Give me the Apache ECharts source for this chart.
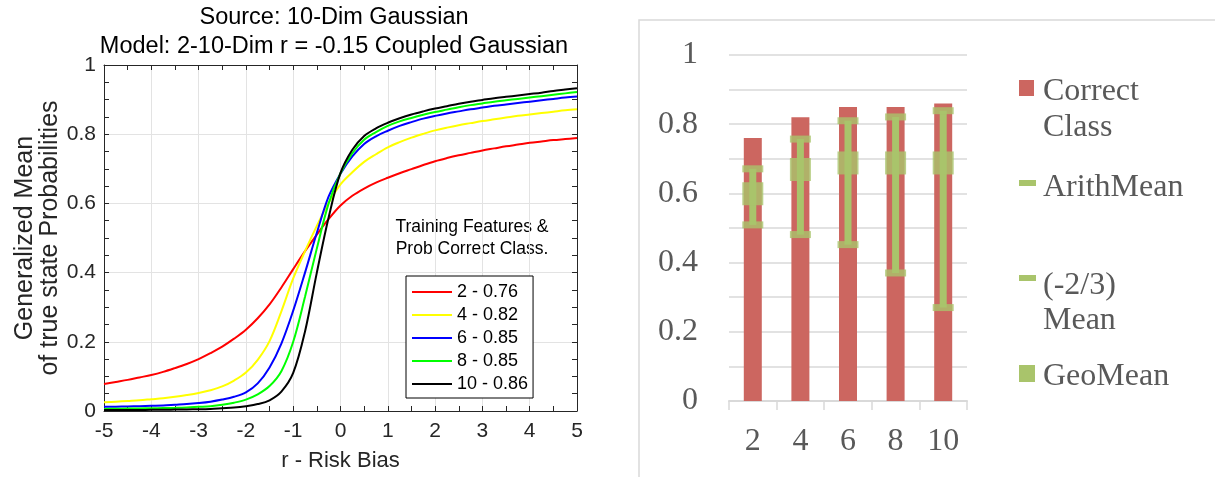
<!DOCTYPE html>
<html>
<head>
<meta charset="utf-8">
<script src="https://cdn.jsdelivr.net/npm/echarts@6/dist/echarts.min.js"></script>
<style>
html,body{margin:0;padding:0;background:#fff;}
#c{width:1215px;height:477px;}
</style>
</head>
<body>
<div id="c"></div>
<script>
// ---------- Left chart data ----------
const riskBias = [-5,-4.75,-4.5,-4.25,-4,-3.75,-3.5,-3.25,-3,-2.75,-2.5,-2.25,-2,-1.75,-1.5,-1.25,-1,-0.75,-0.5,-0.25,0,0.25,0.5,0.75,1,1.25,1.5,1.75,2,2.25,2.5,2.75,3,3.25,3.5,3.75,4,4.25,4.5,4.75,5];
const lineNames = ['2 - 0.76','4 - 0.82','6 - 0.85','8 - 0.85','10 - 0.86'];
const lineColors = ['#ff0000','#ffff00','#0000ff','#00ff00','#000000'];
const dim2  = [0.078,0.084,0.090,0.097,0.104,0.113,0.124,0.136,0.150,0.167,0.186,0.209,0.235,0.268,0.308,0.357,0.410,0.462,0.510,0.555,0.594,0.622,0.643,0.660,0.674,0.687,0.699,0.711,0.722,0.731,0.739,0.746,0.753,0.759,0.765,0.770,0.775,0.779,0.783,0.786,0.789];
const dim4  = [0.025,0.027,0.029,0.031,0.034,0.037,0.041,0.046,0.052,0.060,0.071,0.088,0.111,0.148,0.202,0.288,0.383,0.462,0.535,0.602,0.655,0.690,0.720,0.742,0.762,0.777,0.790,0.801,0.811,0.819,0.826,0.832,0.838,0.843,0.848,0.853,0.857,0.861,0.865,0.869,0.872];
const dim6  = [0.012,0.0125,0.013,0.014,0.015,0.016,0.018,0.020,0.023,0.027,0.033,0.041,0.054,0.080,0.126,0.195,0.290,0.400,0.515,0.620,0.686,0.736,0.772,0.794,0.810,0.824,0.835,0.845,0.853,0.860,0.866,0.872,0.877,0.882,0.886,0.890,0.894,0.898,0.902,0.906,0.909];
const dim8  = [0.006,0.0065,0.007,0.0075,0.008,0.0085,0.009,0.010,0.012,0.014,0.018,0.024,0.033,0.048,0.072,0.115,0.200,0.330,0.470,0.600,0.687,0.745,0.784,0.806,0.824,0.837,0.847,0.856,0.864,0.871,0.878,0.884,0.889,0.894,0.898,0.902,0.906,0.910,0.914,0.918,0.922];
const dim10 = [0.003,0.003,0.003,0.003,0.0035,0.0035,0.004,0.0045,0.005,0.006,0.008,0.010,0.014,0.020,0.031,0.056,0.110,0.230,0.400,0.560,0.688,0.755,0.795,0.817,0.833,0.846,0.857,0.866,0.874,0.881,0.888,0.894,0.899,0.904,0.908,0.912,0.916,0.920,0.925,0.929,0.933];
const lineValues = [dim2, dim4, dim6, dim8, dim10];

// ---------- Right chart data ----------
const dims = ['2','4','6','8','10'];
const correctClass = [0.76,0.82,0.85,0.85,0.86];
const arithMean = [0.671,0.757,0.810,0.821,0.839];
const negTwoThirdsMean = [0.509,0.481,0.452,0.370,0.270];
const geoMean = [0.599,0.669,0.688,0.688,0.688];

const RED = '#cc6660';
const GREEN = '#a9c46b';
const GREY_TXT = '#595959';
const SERIF = 'Liberation Serif';
const SANS = 'Liberation Sans';
const AX = '#262626';

const chart = echarts.init(document.getElementById('c'), null, {renderer:'canvas'});

const lineSeries = lineNames.map((n, k) => ({
  name: n, type: 'line', xAxisIndex: 0, yAxisIndex: 0,
  data: riskBias.map((x, i) => [x, lineValues[k][i]]),
  showSymbol: false, smooth: 0.35,
  lineStyle: {color: lineColors[k], width: 2}, itemStyle: {color: lineColors[k]},
  z: 3 + k
}));

const leftAxisCommon = {
  gridIndex: 0, type: 'value',
  axisLine: {show: true, onZero: false, lineStyle: {color: AX, width: 1}},
  axisTick: {show: true, inside: true, length: 5, lineStyle: {color: AX}},
};

const option = {
  animation: false,
  textStyle: {fontFamily: SANS},
  title: {
    text: 'Source: 10-Dim Gaussian\nModel: 2-10-Dim r = -0.15 Coupled Gaussian',
    left: 334, top: 3, padding: 0, textAlign: 'center',
    textStyle: {fontSize: 23.5, lineHeight: 29, fontWeight: 'normal', color: '#000', fontFamily: SANS}
  },
  grid: [
    {left: 104, top: 65, width: 473, height: 351, containLabel: false},
    {left: 729, top: 55, width: 238, height: 346, containLabel: false}
  ],
  legend: [{
    data: lineNames, orient: 'vertical', left: 406, top: 276,
    padding: [7, 5, 5, 6], itemGap: 5, itemWidth: 40, itemHeight: 2, icon: 'rect',
    borderColor: '#000', borderWidth: 1, backgroundColor: '#fff',
    textStyle: {fontSize: 18, lineHeight: 18, color: '#000', fontFamily: SANS, padding: [0,0,0,0]},
    selectedMode: false
  }],
  xAxis: [
    Object.assign({}, leftAxisCommon, {
      position: 'bottom', min: -5, max: 5, interval: 1,
      minorTick: {show: true, splitNumber: 2, length: 5, lineStyle: {color: AX}},
      splitLine: {show: true, lineStyle: {color: '#e3e3e3', width: 1}},
      axisLabel: {fontSize: 21, color: AX, margin: 10, fontFamily: SANS},
      name: 'r - Risk Bias', nameLocation: 'middle', nameGap: 39,
      nameTextStyle: {fontSize: 22, color: AX, fontFamily: SANS}
    }),
    Object.assign({}, leftAxisCommon, {
      position: 'top', min: -5, max: 5, interval: 1,
      minorTick: {show: true, splitNumber: 2, length: 5, lineStyle: {color: AX}},
      splitLine: {show: false}, axisLabel: {show: false}
    }),
    {
      gridIndex: 1, type: 'category', data: dims, position: 'bottom',
      axisLine: {show: true, lineStyle: {color: '#d9d9d9', width: 2}},
      axisTick: {show: true, length: 9, lineStyle: {color: '#d9d9d9', width: 1.5}},
      axisLabel: {fontSize: 32, color: GREY_TXT, fontFamily: SERIF, margin: 25},
      splitLine: {show: false}
    }
  ],
  yAxis: [
    Object.assign({}, leftAxisCommon, {
      position: 'left', min: 0, max: 1, interval: 0.2,
      minorTick: {show: true, splitNumber: 4, length: 5, lineStyle: {color: AX}},
      splitLine: {show: true, lineStyle: {color: '#e3e3e3', width: 1}},
      axisLabel: {fontSize: 21, color: AX, margin: 8, fontFamily: SANS},
      name: 'Generalized Mean\nof true state Probabilities', nameLocation: 'middle', nameGap: 33,
      nameTextStyle: {fontSize: 25, lineHeight: 25, color: AX, fontFamily: SANS}
    }),
    Object.assign({}, leftAxisCommon, {
      position: 'right', min: 0, max: 1, interval: 0.2,
      minorTick: {show: true, splitNumber: 4, length: 5, lineStyle: {color: AX}},
      splitLine: {show: false}, axisLabel: {show: false}
    }),
    {
      gridIndex: 1, type: 'value', min: 0, max: 1, interval: 0.1,
      axisLine: {show: false}, axisTick: {show: false},
      splitLine: {show: true, lineStyle: {color: '#d9d9d9', width: 1.5}},
      axisLabel: {
        fontSize: 32, color: GREY_TXT, fontFamily: SERIF, margin: 31, padding: [8, 0, 0, 0],
        formatter: v => (Math.round(v * 10) % 2 === 0) ? String(+v.toFixed(1)) : ''
      }
    }
  ],
  series: lineSeries.concat([
    {
      name: 'Correct Class', type: 'bar', xAxisIndex: 2, yAxisIndex: 2,
      data: correctClass, barWidth: 18, itemStyle: {color: RED}, z: 2
    },
    {
      name: 'HighLow', type: 'custom', xAxisIndex: 2, yAxisIndex: 2, z: 3,
      data: dims.map((d, i) => [i, arithMean[i], negTwoThirdsMean[i]]),
      encode: {x: 0, y: [1, 2]},
      renderItem: (params, api) => {
        const top = api.coord([api.value(0), api.value(1)]);
        const bot = api.coord([api.value(0), api.value(2)]);
        const w = 7;
        return {type: 'rect', shape: {x: top[0] - w / 2, y: top[1], width: w, height: bot[1] - top[1]},
                style: {fill: GREEN}};
      }
    },
    {
      name: 'ArithMean', type: 'scatter', xAxisIndex: 2, yAxisIndex: 2, z: 4,
      data: dims.map((d, i) => [i, arithMean[i]]),
      symbol: 'rect', symbolSize: [21, 7], itemStyle: {color: GREEN}
    },
    {
      name: '(-2/3) Mean', type: 'scatter', xAxisIndex: 2, yAxisIndex: 2, z: 4,
      data: dims.map((d, i) => [i, negTwoThirdsMean[i]]),
      symbol: 'rect', symbolSize: [21, 7], itemStyle: {color: GREEN}
    },
    {
      name: 'GeoMean', type: 'scatter', xAxisIndex: 2, yAxisIndex: 2, z: 5,
      data: dims.map((d, i) => [i, geoMean[i]]),
      symbol: 'rect', symbolSize: [21, 23], itemStyle: {color: GREEN}
    }
  ]),
  graphic: [
    {type: 'rect', z: -10, shape: {x: 639, y: 20, width: 700, height: 600},
     style: {fill: 'none', stroke: '#d9d9d9', lineWidth: 1.5}},
    {type: 'text', x: 472, y: 227, style: {text: 'Training Features &', font: '17.5px "Liberation Sans"', fill: '#000', align: 'center', verticalAlign: 'middle'}},
    {type: 'text', x: 472, y: 249, style: {text: 'Prob Correct Class.', font: '17.5px "Liberation Sans"', fill: '#000', align: 'center', verticalAlign: 'middle'}},
    // right legend
    {type: 'rect', shape: {x: 1019, y: 80, width: 15, height: 16}, style: {fill: RED}},
    {type: 'text', x: 1043, y: 74, style: {text: 'Correct\nClass', font: '32px "Liberation Serif"', lineHeight: 36, fill: GREY_TXT, verticalAlign: 'top'}},
    {type: 'rect', shape: {x: 1019, y: 180, width: 17, height: 6}, style: {fill: GREEN}},
    {type: 'text', x: 1043, y: 170, style: {text: 'ArithMean', font: '32px "Liberation Serif"', lineHeight: 36, fill: GREY_TXT, verticalAlign: 'top'}},
    {type: 'rect', shape: {x: 1019, y: 275, width: 17, height: 6}, style: {fill: GREEN}},
    {type: 'text', x: 1043, y: 268, style: {text: '(-2/3)\nMean', font: '32px "Liberation Serif"', lineHeight: 35, fill: GREY_TXT, verticalAlign: 'top'}},
    {type: 'rect', shape: {x: 1019, y: 365, width: 16, height: 17}, style: {fill: GREEN}},
    {type: 'text', x: 1043, y: 359, style: {text: 'GeoMean', font: '32px "Liberation Serif"', lineHeight: 36, fill: GREY_TXT, verticalAlign: 'top'}}
  ]
};
chart.setOption(option);
</script>
</body>
</html>
